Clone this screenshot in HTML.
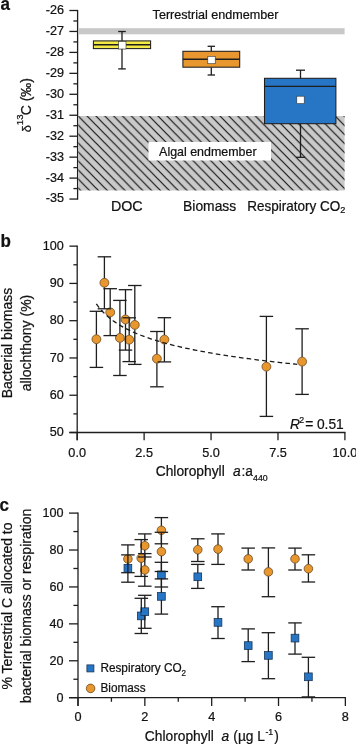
<!DOCTYPE html>
<html><head><meta charset="utf-8"><style>
html,body{margin:0;padding:0;background:#fff;width:356px;height:745px;overflow:hidden}
svg{display:block;font-family:"Liberation Sans", sans-serif;will-change:transform}
text{stroke:#111;stroke-width:0.22px;paint-order:stroke}
</style></head><body>
<svg width="356" height="745" viewBox="0 0 356 745">
<rect width="356" height="745" fill="#fff"/>
<text transform="translate(0.50,9.60) scale(1,1.06)" font-size="17" text-anchor="start" font-weight="bold" font-style="normal" fill="#111" >a</text>
<line x1="77.60" y1="9.90" x2="77.60" y2="199.65" stroke="#1e1e1e" stroke-width="1.3" />
<line x1="69.40" y1="10.50" x2="77.60" y2="10.50" stroke="#1e1e1e" stroke-width="1.3" />
<text transform="translate(63.90,13.90) scale(1,1.06)" font-size="12.6" text-anchor="end" font-weight="normal" font-style="normal" fill="#111" >-26</text>
<line x1="73.40" y1="20.98" x2="77.60" y2="20.98" stroke="#1e1e1e" stroke-width="1.3" />
<line x1="69.40" y1="31.45" x2="77.60" y2="31.45" stroke="#1e1e1e" stroke-width="1.3" />
<text transform="translate(63.90,34.85) scale(1,1.06)" font-size="12.6" text-anchor="end" font-weight="normal" font-style="normal" fill="#111" >-27</text>
<line x1="73.40" y1="41.92" x2="77.60" y2="41.92" stroke="#1e1e1e" stroke-width="1.3" />
<line x1="69.40" y1="52.40" x2="77.60" y2="52.40" stroke="#1e1e1e" stroke-width="1.3" />
<text transform="translate(63.90,55.80) scale(1,1.06)" font-size="12.6" text-anchor="end" font-weight="normal" font-style="normal" fill="#111" >-28</text>
<line x1="73.40" y1="62.88" x2="77.60" y2="62.88" stroke="#1e1e1e" stroke-width="1.3" />
<line x1="69.40" y1="73.35" x2="77.60" y2="73.35" stroke="#1e1e1e" stroke-width="1.3" />
<text transform="translate(63.90,76.75) scale(1,1.06)" font-size="12.6" text-anchor="end" font-weight="normal" font-style="normal" fill="#111" >-29</text>
<line x1="73.40" y1="83.83" x2="77.60" y2="83.83" stroke="#1e1e1e" stroke-width="1.3" />
<line x1="69.40" y1="94.30" x2="77.60" y2="94.30" stroke="#1e1e1e" stroke-width="1.3" />
<text transform="translate(63.90,97.70) scale(1,1.06)" font-size="12.6" text-anchor="end" font-weight="normal" font-style="normal" fill="#111" >-30</text>
<line x1="73.40" y1="104.77" x2="77.60" y2="104.77" stroke="#1e1e1e" stroke-width="1.3" />
<line x1="69.40" y1="115.25" x2="77.60" y2="115.25" stroke="#1e1e1e" stroke-width="1.3" />
<text transform="translate(63.90,118.65) scale(1,1.06)" font-size="12.6" text-anchor="end" font-weight="normal" font-style="normal" fill="#111" >-31</text>
<line x1="73.40" y1="125.72" x2="77.60" y2="125.72" stroke="#1e1e1e" stroke-width="1.3" />
<line x1="69.40" y1="136.20" x2="77.60" y2="136.20" stroke="#1e1e1e" stroke-width="1.3" />
<text transform="translate(63.90,139.60) scale(1,1.06)" font-size="12.6" text-anchor="end" font-weight="normal" font-style="normal" fill="#111" >-32</text>
<line x1="73.40" y1="146.67" x2="77.60" y2="146.67" stroke="#1e1e1e" stroke-width="1.3" />
<line x1="69.40" y1="157.15" x2="77.60" y2="157.15" stroke="#1e1e1e" stroke-width="1.3" />
<text transform="translate(63.90,160.55) scale(1,1.06)" font-size="12.6" text-anchor="end" font-weight="normal" font-style="normal" fill="#111" >-33</text>
<line x1="73.40" y1="167.62" x2="77.60" y2="167.62" stroke="#1e1e1e" stroke-width="1.3" />
<line x1="69.40" y1="178.10" x2="77.60" y2="178.10" stroke="#1e1e1e" stroke-width="1.3" />
<text transform="translate(63.90,181.50) scale(1,1.06)" font-size="12.6" text-anchor="end" font-weight="normal" font-style="normal" fill="#111" >-34</text>
<line x1="73.40" y1="188.57" x2="77.60" y2="188.57" stroke="#1e1e1e" stroke-width="1.3" />
<line x1="69.40" y1="199.05" x2="77.60" y2="199.05" stroke="#1e1e1e" stroke-width="1.3" />
<text transform="translate(63.90,202.45) scale(1,1.06)" font-size="12.6" text-anchor="end" font-weight="normal" font-style="normal" fill="#111" >-35</text>
<rect x="78.30" y="28.20" width="266.30" height="6.10" fill="#c8c8c8" stroke="none" stroke-width="0" />
<text transform="translate(152.60,18.60) scale(1,1.06)" font-size="12.6" text-anchor="start" font-weight="normal" font-style="normal" fill="#111" >Terrestrial endmember</text>
<defs><pattern id="hatch" patternUnits="userSpaceOnUse" width="8.86" height="9.0" patternTransform="translate(78.3,116.1)"><rect width="8.86" height="9.0" fill="#c9c9c9"/><path d="M-1.772,-1.800 L10.632,10.800 M-1.772,7.200 L1.772,10.800 M7.088,-1.800 L10.632,1.800" stroke="#151515" stroke-width="1.2"/></pattern></defs>
<rect x="78.30" y="116.00" width="266.30" height="74.50" fill="url(#hatch)" stroke="none" stroke-width="0" />
<rect x="148.50" y="142.00" width="122.50" height="18.50" fill="#ffffff" stroke="none" stroke-width="0" />
<text transform="translate(159.10,156.20) scale(1,1.06)" font-size="12.45" text-anchor="start" font-weight="normal" font-style="normal" fill="#111" >Algal endmember</text>
<line x1="122.00" y1="31.50" x2="122.00" y2="40.90" stroke="#1e1e1e" stroke-width="1.3" />
<line x1="122.00" y1="48.60" x2="122.00" y2="68.90" stroke="#1e1e1e" stroke-width="1.3" />
<line x1="118.20" y1="31.50" x2="125.80" y2="31.50" stroke="#1e1e1e" stroke-width="1.3" />
<line x1="118.20" y1="68.90" x2="125.80" y2="68.90" stroke="#1e1e1e" stroke-width="1.3" />
<rect x="93.40" y="40.90" width="57.20" height="7.70" fill="#f3ea45" stroke="#1e1e1e" stroke-width="1.05" />
<line x1="93.40" y1="44.70" x2="150.60" y2="44.70" stroke="#1e1e1e" stroke-width="1.4" />
<rect x="118.60" y="41.60" width="7.40" height="7.40" fill="#ffffff" stroke="#333" stroke-width="0.6" />
<line x1="211.30" y1="46.30" x2="211.30" y2="51.30" stroke="#1e1e1e" stroke-width="1.3" />
<line x1="211.30" y1="67.20" x2="211.30" y2="75.00" stroke="#1e1e1e" stroke-width="1.3" />
<line x1="207.60" y1="46.30" x2="215.00" y2="46.30" stroke="#1e1e1e" stroke-width="1.3" />
<line x1="207.60" y1="75.00" x2="215.00" y2="75.00" stroke="#1e1e1e" stroke-width="1.3" />
<rect x="182.90" y="51.30" width="56.80" height="15.90" fill="#e8962e" stroke="#1e1e1e" stroke-width="1.05" />
<line x1="182.90" y1="59.20" x2="239.70" y2="59.20" stroke="#1e1e1e" stroke-width="1.4" />
<rect x="207.80" y="56.30" width="7.40" height="7.40" fill="#ffffff" stroke="#333" stroke-width="0.6" />
<line x1="300.50" y1="70.20" x2="300.50" y2="78.30" stroke="#1e1e1e" stroke-width="1.3" />
<line x1="300.50" y1="123.70" x2="300.50" y2="157.30" stroke="#1e1e1e" stroke-width="1.3" />
<line x1="296.00" y1="70.20" x2="305.00" y2="70.20" stroke="#1e1e1e" stroke-width="1.3" />
<line x1="296.00" y1="157.30" x2="305.00" y2="157.30" stroke="#1e1e1e" stroke-width="1.3" />
<rect x="264.50" y="78.30" width="71.40" height="45.40" fill="#2676c5" stroke="#1e1e1e" stroke-width="1.05" />
<line x1="264.50" y1="86.40" x2="335.90" y2="86.40" stroke="#1e1e1e" stroke-width="1.4" />
<rect x="296.80" y="96.20" width="7.40" height="7.40" fill="#ffffff" stroke="#333" stroke-width="0.6" />
<text transform="translate(110.90,210.90) scale(1,1.06)" font-size="14.3" text-anchor="start" font-weight="normal" font-style="normal" fill="#111" >DOC</text>
<text transform="translate(183.10,210.90) scale(1,1.06)" font-size="13.85" text-anchor="start" font-weight="normal" font-style="normal" fill="#111" >Biomass</text>
<text transform="translate(247.30,211.20) scale(1,1.06)" font-size="13.5" text-anchor="start" font-weight="normal" font-style="normal" fill="#111" >Respiratory CO<tspan font-size="9.2" dy="1.8">2</tspan></text>
<text transform="translate(30.7,132.3) rotate(-90)" font-size="13" fill="#111">δ</text>
<text transform="translate(22.9,125.2) rotate(-90)" font-size="9.6" fill="#111">13</text>
<text transform="translate(30.8,115.3) rotate(-90)" font-size="14" fill="#111">C (‰)</text>
<text transform="translate(0.60,247.40) scale(1,1.06)" font-size="17" text-anchor="start" font-weight="bold" font-style="normal" fill="#111" >b</text>
<line x1="77.20" y1="245.55" x2="77.20" y2="440.30" stroke="#1e1e1e" stroke-width="1.3" />
<line x1="69.40" y1="432.50" x2="345.50" y2="432.50" stroke="#1e1e1e" stroke-width="1.3" />
<line x1="69.40" y1="432.50" x2="77.20" y2="432.50" stroke="#1e1e1e" stroke-width="1.3" />
<text transform="translate(63.70,436.30) scale(1,1.06)" font-size="12.6" text-anchor="end" font-weight="normal" font-style="normal" fill="#111" >50</text>
<line x1="73.40" y1="413.87" x2="77.20" y2="413.87" stroke="#1e1e1e" stroke-width="1.3" />
<line x1="69.40" y1="395.23" x2="77.20" y2="395.23" stroke="#1e1e1e" stroke-width="1.3" />
<text transform="translate(63.70,399.03) scale(1,1.06)" font-size="12.6" text-anchor="end" font-weight="normal" font-style="normal" fill="#111" >60</text>
<line x1="73.40" y1="376.60" x2="77.20" y2="376.60" stroke="#1e1e1e" stroke-width="1.3" />
<line x1="69.40" y1="357.96" x2="77.20" y2="357.96" stroke="#1e1e1e" stroke-width="1.3" />
<text transform="translate(63.70,361.76) scale(1,1.06)" font-size="12.6" text-anchor="end" font-weight="normal" font-style="normal" fill="#111" >70</text>
<line x1="73.40" y1="339.32" x2="77.20" y2="339.32" stroke="#1e1e1e" stroke-width="1.3" />
<line x1="69.40" y1="320.69" x2="77.20" y2="320.69" stroke="#1e1e1e" stroke-width="1.3" />
<text transform="translate(63.70,324.49) scale(1,1.06)" font-size="12.6" text-anchor="end" font-weight="normal" font-style="normal" fill="#111" >80</text>
<line x1="73.40" y1="302.06" x2="77.20" y2="302.06" stroke="#1e1e1e" stroke-width="1.3" />
<line x1="69.40" y1="283.42" x2="77.20" y2="283.42" stroke="#1e1e1e" stroke-width="1.3" />
<text transform="translate(63.70,287.22) scale(1,1.06)" font-size="12.6" text-anchor="end" font-weight="normal" font-style="normal" fill="#111" >90</text>
<line x1="73.40" y1="264.78" x2="77.20" y2="264.78" stroke="#1e1e1e" stroke-width="1.3" />
<line x1="69.40" y1="246.15" x2="77.20" y2="246.15" stroke="#1e1e1e" stroke-width="1.3" />
<text transform="translate(63.70,249.95) scale(1,1.06)" font-size="12.6" text-anchor="end" font-weight="normal" font-style="normal" fill="#111" >100</text>
<line x1="77.20" y1="432.50" x2="77.20" y2="440.30" stroke="#1e1e1e" stroke-width="1.3" />
<text transform="translate(77.20,456.70) scale(1,1.06)" font-size="12.7" text-anchor="middle" font-weight="normal" font-style="normal" fill="#111" >0.0</text>
<line x1="144.12" y1="432.50" x2="144.12" y2="440.30" stroke="#1e1e1e" stroke-width="1.3" />
<text transform="translate(144.12,456.70) scale(1,1.06)" font-size="12.7" text-anchor="middle" font-weight="normal" font-style="normal" fill="#111" >2.5</text>
<line x1="211.05" y1="432.50" x2="211.05" y2="440.30" stroke="#1e1e1e" stroke-width="1.3" />
<text transform="translate(211.05,456.70) scale(1,1.06)" font-size="12.7" text-anchor="middle" font-weight="normal" font-style="normal" fill="#111" >5.0</text>
<line x1="277.98" y1="432.50" x2="277.98" y2="440.30" stroke="#1e1e1e" stroke-width="1.3" />
<text transform="translate(277.98,456.70) scale(1,1.06)" font-size="12.7" text-anchor="middle" font-weight="normal" font-style="normal" fill="#111" >7.5</text>
<line x1="344.90" y1="432.50" x2="344.90" y2="440.30" stroke="#1e1e1e" stroke-width="1.3" />
<text transform="translate(344.90,456.70) scale(1,1.06)" font-size="12.7" text-anchor="middle" font-weight="normal" font-style="normal" fill="#111" >10.0</text>
<text transform="translate(155.70,475.90) scale(1,1.06)" font-size="13.8" text-anchor="start" font-weight="normal" font-style="normal" fill="#111" >Chlorophyll</text>
<text transform="translate(232.90,475.90) scale(1,1.06)" font-size="13.8" text-anchor="start" font-weight="normal" font-style="italic" fill="#111" >a</text>
<text transform="translate(241.50,475.90) scale(1,1.06)" font-size="13.8" text-anchor="start" font-weight="normal" font-style="normal" fill="#111" >:a</text>
<text transform="translate(253.00,480.90) scale(1,1.06)" font-size="8.8" text-anchor="start" font-weight="normal" font-style="normal" fill="#111" >440</text>
<text transform="translate(11.8,343) rotate(-90)" font-size="14" text-anchor="middle" fill="#111">Bacterial biomass</text>
<text transform="translate(31.0,343) rotate(-90)" font-size="14" text-anchor="middle" fill="#111">allochthony (%)</text>
<text transform="translate(290.00,428.60) scale(1,1.06)" font-size="13.8" text-anchor="start" font-weight="normal" font-style="italic" fill="#111" >R</text>
<text transform="translate(299.20,423.00) scale(1,1.06)" font-size="8.8" text-anchor="start" font-weight="normal" font-style="normal" fill="#111" >2</text>
<text transform="translate(305.20,428.60) scale(1,1.06)" font-size="13.8" text-anchor="start" font-weight="normal" font-style="normal" fill="#111" >=</text>
<text transform="translate(316.90,428.60) scale(1,1.06)" font-size="13.8" text-anchor="start" font-weight="normal" font-style="normal" fill="#111" >0.51</text>
<circle cx="96.40" cy="339.20" r="4.45" fill="#e8962e" stroke="#5b3b12" stroke-width="0.7"/>
<circle cx="104.40" cy="282.80" r="4.45" fill="#e8962e" stroke="#5b3b12" stroke-width="0.7"/>
<circle cx="110.20" cy="312.30" r="4.45" fill="#e8962e" stroke="#5b3b12" stroke-width="0.7"/>
<circle cx="119.90" cy="337.90" r="4.45" fill="#e8962e" stroke="#5b3b12" stroke-width="0.7"/>
<circle cx="125.50" cy="319.40" r="4.45" fill="#e8962e" stroke="#5b3b12" stroke-width="0.7"/>
<circle cx="129.20" cy="339.70" r="4.45" fill="#e8962e" stroke="#5b3b12" stroke-width="0.7"/>
<circle cx="134.80" cy="324.90" r="4.45" fill="#e8962e" stroke="#5b3b12" stroke-width="0.7"/>
<circle cx="156.90" cy="358.70" r="4.45" fill="#e8962e" stroke="#5b3b12" stroke-width="0.7"/>
<circle cx="164.40" cy="339.60" r="4.45" fill="#e8962e" stroke="#5b3b12" stroke-width="0.7"/>
<circle cx="266.40" cy="366.70" r="4.45" fill="#e8962e" stroke="#5b3b12" stroke-width="0.7"/>
<circle cx="302.10" cy="361.60" r="4.45" fill="#e8962e" stroke="#5b3b12" stroke-width="0.7"/>
<line x1="96.40" y1="311.30" x2="96.40" y2="334.60" stroke="#1e1e1e" stroke-width="1.3" />
<line x1="96.40" y1="343.80" x2="96.40" y2="367.40" stroke="#1e1e1e" stroke-width="1.3" />
<line x1="89.65" y1="311.30" x2="103.15" y2="311.30" stroke="#1e1e1e" stroke-width="1.3" />
<line x1="89.65" y1="367.40" x2="103.15" y2="367.40" stroke="#1e1e1e" stroke-width="1.3" />
<line x1="104.40" y1="256.80" x2="104.40" y2="278.20" stroke="#1e1e1e" stroke-width="1.3" />
<line x1="104.40" y1="287.40" x2="104.40" y2="308.80" stroke="#1e1e1e" stroke-width="1.3" />
<line x1="97.65" y1="256.80" x2="111.15" y2="256.80" stroke="#1e1e1e" stroke-width="1.3" />
<line x1="97.65" y1="308.80" x2="111.15" y2="308.80" stroke="#1e1e1e" stroke-width="1.3" />
<line x1="110.20" y1="288.70" x2="110.20" y2="307.70" stroke="#1e1e1e" stroke-width="1.3" />
<line x1="110.20" y1="316.90" x2="110.20" y2="335.60" stroke="#1e1e1e" stroke-width="1.3" />
<line x1="103.45" y1="288.70" x2="116.95" y2="288.70" stroke="#1e1e1e" stroke-width="1.3" />
<line x1="103.45" y1="335.60" x2="116.95" y2="335.60" stroke="#1e1e1e" stroke-width="1.3" />
<line x1="119.90" y1="300.40" x2="119.90" y2="333.30" stroke="#1e1e1e" stroke-width="1.3" />
<line x1="119.90" y1="342.50" x2="119.90" y2="375.50" stroke="#1e1e1e" stroke-width="1.3" />
<line x1="113.15" y1="300.40" x2="126.65" y2="300.40" stroke="#1e1e1e" stroke-width="1.3" />
<line x1="113.15" y1="375.50" x2="126.65" y2="375.50" stroke="#1e1e1e" stroke-width="1.3" />
<line x1="125.50" y1="289.70" x2="125.50" y2="314.80" stroke="#1e1e1e" stroke-width="1.3" />
<line x1="125.50" y1="324.00" x2="125.50" y2="350.10" stroke="#1e1e1e" stroke-width="1.3" />
<line x1="118.75" y1="289.70" x2="132.25" y2="289.70" stroke="#1e1e1e" stroke-width="1.3" />
<line x1="118.75" y1="350.10" x2="132.25" y2="350.10" stroke="#1e1e1e" stroke-width="1.3" />
<line x1="129.20" y1="317.80" x2="129.20" y2="335.10" stroke="#1e1e1e" stroke-width="1.3" />
<line x1="129.20" y1="344.30" x2="129.20" y2="361.60" stroke="#1e1e1e" stroke-width="1.3" />
<line x1="122.45" y1="317.80" x2="135.95" y2="317.80" stroke="#1e1e1e" stroke-width="1.3" />
<line x1="122.45" y1="361.60" x2="135.95" y2="361.60" stroke="#1e1e1e" stroke-width="1.3" />
<line x1="134.80" y1="285.50" x2="134.80" y2="320.30" stroke="#1e1e1e" stroke-width="1.3" />
<line x1="134.80" y1="329.50" x2="134.80" y2="364.40" stroke="#1e1e1e" stroke-width="1.3" />
<line x1="128.05" y1="285.50" x2="141.55" y2="285.50" stroke="#1e1e1e" stroke-width="1.3" />
<line x1="128.05" y1="364.40" x2="141.55" y2="364.40" stroke="#1e1e1e" stroke-width="1.3" />
<line x1="156.90" y1="331.50" x2="156.90" y2="354.10" stroke="#1e1e1e" stroke-width="1.3" />
<line x1="156.90" y1="363.30" x2="156.90" y2="386.80" stroke="#1e1e1e" stroke-width="1.3" />
<line x1="150.15" y1="331.50" x2="163.65" y2="331.50" stroke="#1e1e1e" stroke-width="1.3" />
<line x1="150.15" y1="386.80" x2="163.65" y2="386.80" stroke="#1e1e1e" stroke-width="1.3" />
<line x1="164.40" y1="317.70" x2="164.40" y2="335.00" stroke="#1e1e1e" stroke-width="1.3" />
<line x1="164.40" y1="344.20" x2="164.40" y2="361.90" stroke="#1e1e1e" stroke-width="1.3" />
<line x1="157.65" y1="317.70" x2="171.15" y2="317.70" stroke="#1e1e1e" stroke-width="1.3" />
<line x1="157.65" y1="361.90" x2="171.15" y2="361.90" stroke="#1e1e1e" stroke-width="1.3" />
<line x1="266.40" y1="316.40" x2="266.40" y2="362.10" stroke="#1e1e1e" stroke-width="1.3" />
<line x1="266.40" y1="371.30" x2="266.40" y2="416.40" stroke="#1e1e1e" stroke-width="1.3" />
<line x1="259.65" y1="316.40" x2="273.15" y2="316.40" stroke="#1e1e1e" stroke-width="1.3" />
<line x1="259.65" y1="416.40" x2="273.15" y2="416.40" stroke="#1e1e1e" stroke-width="1.3" />
<line x1="302.10" y1="328.80" x2="302.10" y2="357.00" stroke="#1e1e1e" stroke-width="1.3" />
<line x1="302.10" y1="366.20" x2="302.10" y2="394.40" stroke="#1e1e1e" stroke-width="1.3" />
<line x1="295.35" y1="328.80" x2="308.85" y2="328.80" stroke="#1e1e1e" stroke-width="1.3" />
<line x1="295.35" y1="394.40" x2="308.85" y2="394.40" stroke="#1e1e1e" stroke-width="1.3" />
<polyline points="96.34,303.92 98.01,306.21 99.69,308.31 101.36,310.25 103.04,312.05 104.71,313.73 106.39,315.29 108.06,316.77 109.73,318.16 111.41,319.47 113.08,320.71 114.76,321.90 116.43,323.02 118.11,324.10 119.78,325.13 121.45,326.11 123.13,327.06 124.80,327.97 126.48,328.85 128.15,329.69 129.83,330.50 131.50,331.29 133.17,332.05 134.85,332.79 136.52,333.50 138.20,334.19 139.87,334.86 141.55,335.52 143.22,336.15 144.89,336.77 146.57,337.37 148.24,337.95 149.92,338.52 151.59,339.08 153.26,339.62 154.94,340.15 156.61,340.67 158.29,341.17 159.96,341.67 161.64,342.15 163.31,342.62 164.98,343.09 166.66,343.54 168.33,343.99 170.01,344.42 171.68,344.85 173.36,345.27 175.03,345.68 176.70,346.08 178.38,346.48 180.05,346.87 181.73,347.25 183.40,347.63 185.08,348.00 186.75,348.36 188.42,348.72 190.10,349.07 191.77,349.42 193.45,349.76 195.12,350.09 196.79,350.42 198.47,350.75 200.14,351.07 201.82,351.38 203.49,351.70 205.17,352.00 206.84,352.30 208.51,352.60 210.19,352.90 211.86,353.19 213.54,353.47 215.21,353.75 216.89,354.03 218.56,354.31 220.23,354.58 221.91,354.85 223.58,355.11 225.26,355.37 226.93,355.63 228.61,355.89 230.28,356.14 231.95,356.39 233.63,356.63 235.30,356.88 236.98,357.12 238.65,357.36 240.33,357.59 242.00,357.82 243.67,358.05 245.35,358.28 247.02,358.51 248.70,358.73 250.37,358.95 252.04,359.17 253.72,359.38 255.39,359.60 257.07,359.81 258.74,360.02 260.42,360.22 262.09,360.43 263.76,360.63 265.44,360.83 267.11,361.03 268.79,361.23 270.46,361.43 272.14,361.62 273.81,361.81 275.48,362.00 277.16,362.19 278.83,362.38 280.51,362.56 282.18,362.74 283.86,362.92 285.53,363.10 287.20,363.28 288.88,363.46 290.55,363.64 292.23,363.81 293.90,363.98 295.58,364.15 297.25,364.32" fill="none" stroke="#1a1a1a" stroke-width="1.3" stroke-dasharray="4.6,3.2"/>
<text transform="translate(-0.60,510.50) scale(1,1.06)" font-size="17" text-anchor="start" font-weight="bold" font-style="normal" fill="#111" >c</text>
<line x1="78.00" y1="512.50" x2="78.00" y2="706.00" stroke="#1e1e1e" stroke-width="1.3" />
<line x1="69.00" y1="697.70" x2="345.96" y2="697.70" stroke="#1e1e1e" stroke-width="1.3" />
<line x1="69.00" y1="697.70" x2="78.00" y2="697.70" stroke="#1e1e1e" stroke-width="1.3" />
<text transform="translate(63.60,701.60) scale(1,1.06)" font-size="12.6" text-anchor="end" font-weight="normal" font-style="normal" fill="#111" >0</text>
<line x1="73.40" y1="679.24" x2="78.00" y2="679.24" stroke="#1e1e1e" stroke-width="1.3" />
<line x1="69.00" y1="660.78" x2="78.00" y2="660.78" stroke="#1e1e1e" stroke-width="1.3" />
<text transform="translate(63.60,664.68) scale(1,1.06)" font-size="12.6" text-anchor="end" font-weight="normal" font-style="normal" fill="#111" >20</text>
<line x1="73.40" y1="642.32" x2="78.00" y2="642.32" stroke="#1e1e1e" stroke-width="1.3" />
<line x1="69.00" y1="623.86" x2="78.00" y2="623.86" stroke="#1e1e1e" stroke-width="1.3" />
<text transform="translate(63.60,627.76) scale(1,1.06)" font-size="12.6" text-anchor="end" font-weight="normal" font-style="normal" fill="#111" >40</text>
<line x1="73.40" y1="605.40" x2="78.00" y2="605.40" stroke="#1e1e1e" stroke-width="1.3" />
<line x1="69.00" y1="586.94" x2="78.00" y2="586.94" stroke="#1e1e1e" stroke-width="1.3" />
<text transform="translate(63.60,590.84) scale(1,1.06)" font-size="12.6" text-anchor="end" font-weight="normal" font-style="normal" fill="#111" >60</text>
<line x1="73.40" y1="568.48" x2="78.00" y2="568.48" stroke="#1e1e1e" stroke-width="1.3" />
<line x1="69.00" y1="550.02" x2="78.00" y2="550.02" stroke="#1e1e1e" stroke-width="1.3" />
<text transform="translate(63.60,553.92) scale(1,1.06)" font-size="12.6" text-anchor="end" font-weight="normal" font-style="normal" fill="#111" >80</text>
<line x1="73.40" y1="531.56" x2="78.00" y2="531.56" stroke="#1e1e1e" stroke-width="1.3" />
<line x1="69.00" y1="513.10" x2="78.00" y2="513.10" stroke="#1e1e1e" stroke-width="1.3" />
<text transform="translate(63.60,517.00) scale(1,1.06)" font-size="12.6" text-anchor="end" font-weight="normal" font-style="normal" fill="#111" >100</text>
<line x1="78.00" y1="697.70" x2="78.00" y2="706.00" stroke="#1e1e1e" stroke-width="1.3" />
<text transform="translate(78.00,720.90) scale(1,1.06)" font-size="12.7" text-anchor="middle" font-weight="normal" font-style="normal" fill="#111" >0</text>
<line x1="111.42" y1="697.70" x2="111.42" y2="701.80" stroke="#1e1e1e" stroke-width="1.3" />
<line x1="144.84" y1="697.70" x2="144.84" y2="706.00" stroke="#1e1e1e" stroke-width="1.3" />
<text transform="translate(144.84,720.90) scale(1,1.06)" font-size="12.7" text-anchor="middle" font-weight="normal" font-style="normal" fill="#111" >2</text>
<line x1="178.26" y1="697.70" x2="178.26" y2="701.80" stroke="#1e1e1e" stroke-width="1.3" />
<line x1="211.68" y1="697.70" x2="211.68" y2="706.00" stroke="#1e1e1e" stroke-width="1.3" />
<text transform="translate(211.68,720.90) scale(1,1.06)" font-size="12.7" text-anchor="middle" font-weight="normal" font-style="normal" fill="#111" >4</text>
<line x1="245.10" y1="697.70" x2="245.10" y2="701.80" stroke="#1e1e1e" stroke-width="1.3" />
<line x1="278.52" y1="697.70" x2="278.52" y2="706.00" stroke="#1e1e1e" stroke-width="1.3" />
<text transform="translate(278.52,720.90) scale(1,1.06)" font-size="12.7" text-anchor="middle" font-weight="normal" font-style="normal" fill="#111" >6</text>
<line x1="311.94" y1="697.70" x2="311.94" y2="701.80" stroke="#1e1e1e" stroke-width="1.3" />
<line x1="345.36" y1="697.70" x2="345.36" y2="706.00" stroke="#1e1e1e" stroke-width="1.3" />
<text transform="translate(345.36,720.90) scale(1,1.06)" font-size="12.7" text-anchor="middle" font-weight="normal" font-style="normal" fill="#111" >8</text>
<text transform="translate(144.80,741.20) scale(1,1.06)" font-size="13.8" text-anchor="start" font-weight="normal" font-style="normal" fill="#111" >Chlorophyll</text>
<text transform="translate(221.60,741.20) scale(1,1.06)" font-size="13.8" text-anchor="start" font-weight="normal" font-style="italic" fill="#111" >a</text>
<text transform="translate(233.30,741.20) scale(1,1.06)" font-size="13.8" text-anchor="start" font-weight="normal" font-style="normal" fill="#111" >(µg L</text>
<text transform="translate(265.40,734.60) scale(1,1.06)" font-size="8.8" text-anchor="start" font-weight="normal" font-style="normal" fill="#111" >-1</text>
<text transform="translate(274.20,741.20) scale(1,1.06)" font-size="13.8" text-anchor="start" font-weight="normal" font-style="normal" fill="#111" >)</text>
<text transform="translate(12.0,606) rotate(-90)" font-size="14" text-anchor="middle" fill="#111">% Terrestrial C allocated to</text>
<text transform="translate(30.9,606) rotate(-90)" font-size="14" text-anchor="middle" fill="#111">bacterial biomass or respiration</text>
<rect x="124.05" y="564.55" width="7.70" height="7.70" fill="#2676c5" stroke="#16365e" stroke-width="0.8" />
<rect x="137.45" y="612.05" width="7.70" height="7.70" fill="#2676c5" stroke="#16365e" stroke-width="0.8" />
<rect x="140.95" y="607.85" width="7.70" height="7.70" fill="#2676c5" stroke="#16365e" stroke-width="0.8" />
<rect x="157.55" y="571.05" width="7.70" height="7.70" fill="#2676c5" stroke="#16365e" stroke-width="0.8" />
<rect x="157.55" y="592.55" width="7.70" height="7.70" fill="#2676c5" stroke="#16365e" stroke-width="0.8" />
<rect x="193.95" y="572.95" width="7.70" height="7.70" fill="#2676c5" stroke="#16365e" stroke-width="0.8" />
<rect x="214.15" y="618.55" width="7.70" height="7.70" fill="#2676c5" stroke="#16365e" stroke-width="0.8" />
<rect x="244.35" y="641.75" width="7.70" height="7.70" fill="#2676c5" stroke="#16365e" stroke-width="0.8" />
<rect x="264.55" y="651.55" width="7.70" height="7.70" fill="#2676c5" stroke="#16365e" stroke-width="0.8" />
<rect x="291.15" y="634.25" width="7.70" height="7.70" fill="#2676c5" stroke="#16365e" stroke-width="0.8" />
<rect x="304.55" y="672.95" width="7.70" height="7.70" fill="#2676c5" stroke="#16365e" stroke-width="0.8" />
<circle cx="127.90" cy="559.00" r="4.3" fill="#e8962e" stroke="#5b3b12" stroke-width="0.7"/>
<circle cx="141.20" cy="558.10" r="4.3" fill="#e8962e" stroke="#5b3b12" stroke-width="0.7"/>
<circle cx="144.80" cy="545.70" r="4.3" fill="#e8962e" stroke="#5b3b12" stroke-width="0.7"/>
<circle cx="144.80" cy="569.90" r="4.3" fill="#e8962e" stroke="#5b3b12" stroke-width="0.7"/>
<circle cx="161.40" cy="530.30" r="4.3" fill="#e8962e" stroke="#5b3b12" stroke-width="0.7"/>
<circle cx="161.40" cy="551.60" r="4.3" fill="#e8962e" stroke="#5b3b12" stroke-width="0.7"/>
<circle cx="197.80" cy="549.70" r="4.3" fill="#e8962e" stroke="#5b3b12" stroke-width="0.7"/>
<circle cx="218.00" cy="549.10" r="4.3" fill="#e8962e" stroke="#5b3b12" stroke-width="0.7"/>
<circle cx="248.20" cy="558.90" r="4.3" fill="#e8962e" stroke="#5b3b12" stroke-width="0.7"/>
<circle cx="268.40" cy="571.90" r="4.3" fill="#e8962e" stroke="#5b3b12" stroke-width="0.7"/>
<circle cx="295.00" cy="558.80" r="4.3" fill="#e8962e" stroke="#5b3b12" stroke-width="0.7"/>
<circle cx="308.40" cy="568.70" r="4.3" fill="#e8962e" stroke="#5b3b12" stroke-width="0.7"/>
<line x1="127.90" y1="554.90" x2="127.90" y2="564.70" stroke="#1e1e1e" stroke-width="1.3" />
<line x1="127.90" y1="572.10" x2="127.90" y2="582.20" stroke="#1e1e1e" stroke-width="1.3" />
<line x1="121.15" y1="554.90" x2="134.65" y2="554.90" stroke="#1e1e1e" stroke-width="1.3" />
<line x1="121.15" y1="582.20" x2="134.65" y2="582.20" stroke="#1e1e1e" stroke-width="1.3" />
<line x1="141.30" y1="598.30" x2="141.30" y2="612.20" stroke="#1e1e1e" stroke-width="1.3" />
<line x1="141.30" y1="619.60" x2="141.30" y2="633.50" stroke="#1e1e1e" stroke-width="1.3" />
<line x1="134.55" y1="598.30" x2="148.05" y2="598.30" stroke="#1e1e1e" stroke-width="1.3" />
<line x1="134.55" y1="633.50" x2="148.05" y2="633.50" stroke="#1e1e1e" stroke-width="1.3" />
<line x1="144.80" y1="595.30" x2="144.80" y2="608.00" stroke="#1e1e1e" stroke-width="1.3" />
<line x1="144.80" y1="615.40" x2="144.80" y2="628.30" stroke="#1e1e1e" stroke-width="1.3" />
<line x1="138.05" y1="595.30" x2="151.55" y2="595.30" stroke="#1e1e1e" stroke-width="1.3" />
<line x1="138.05" y1="628.30" x2="151.55" y2="628.30" stroke="#1e1e1e" stroke-width="1.3" />
<line x1="161.40" y1="562.30" x2="161.40" y2="571.20" stroke="#1e1e1e" stroke-width="1.3" />
<line x1="161.40" y1="578.60" x2="161.40" y2="587.00" stroke="#1e1e1e" stroke-width="1.3" />
<line x1="154.65" y1="562.30" x2="168.15" y2="562.30" stroke="#1e1e1e" stroke-width="1.3" />
<line x1="154.65" y1="587.00" x2="168.15" y2="587.00" stroke="#1e1e1e" stroke-width="1.3" />
<line x1="161.40" y1="578.90" x2="161.40" y2="592.70" stroke="#1e1e1e" stroke-width="1.3" />
<line x1="161.40" y1="600.10" x2="161.40" y2="614.10" stroke="#1e1e1e" stroke-width="1.3" />
<line x1="154.65" y1="578.90" x2="168.15" y2="578.90" stroke="#1e1e1e" stroke-width="1.3" />
<line x1="154.65" y1="614.10" x2="168.15" y2="614.10" stroke="#1e1e1e" stroke-width="1.3" />
<line x1="197.80" y1="564.40" x2="197.80" y2="573.10" stroke="#1e1e1e" stroke-width="1.3" />
<line x1="197.80" y1="580.50" x2="197.80" y2="588.40" stroke="#1e1e1e" stroke-width="1.3" />
<line x1="191.05" y1="564.40" x2="204.55" y2="564.40" stroke="#1e1e1e" stroke-width="1.3" />
<line x1="191.05" y1="588.40" x2="204.55" y2="588.40" stroke="#1e1e1e" stroke-width="1.3" />
<line x1="218.00" y1="606.70" x2="218.00" y2="618.70" stroke="#1e1e1e" stroke-width="1.3" />
<line x1="218.00" y1="626.10" x2="218.00" y2="638.50" stroke="#1e1e1e" stroke-width="1.3" />
<line x1="211.25" y1="606.70" x2="224.75" y2="606.70" stroke="#1e1e1e" stroke-width="1.3" />
<line x1="211.25" y1="638.50" x2="224.75" y2="638.50" stroke="#1e1e1e" stroke-width="1.3" />
<line x1="248.20" y1="628.90" x2="248.20" y2="641.90" stroke="#1e1e1e" stroke-width="1.3" />
<line x1="248.20" y1="649.30" x2="248.20" y2="661.60" stroke="#1e1e1e" stroke-width="1.3" />
<line x1="241.45" y1="628.90" x2="254.95" y2="628.90" stroke="#1e1e1e" stroke-width="1.3" />
<line x1="241.45" y1="661.60" x2="254.95" y2="661.60" stroke="#1e1e1e" stroke-width="1.3" />
<line x1="268.40" y1="632.70" x2="268.40" y2="651.70" stroke="#1e1e1e" stroke-width="1.3" />
<line x1="268.40" y1="659.10" x2="268.40" y2="678.70" stroke="#1e1e1e" stroke-width="1.3" />
<line x1="261.65" y1="632.70" x2="275.15" y2="632.70" stroke="#1e1e1e" stroke-width="1.3" />
<line x1="261.65" y1="678.70" x2="275.15" y2="678.70" stroke="#1e1e1e" stroke-width="1.3" />
<line x1="295.00" y1="622.90" x2="295.00" y2="634.40" stroke="#1e1e1e" stroke-width="1.3" />
<line x1="295.00" y1="641.80" x2="295.00" y2="654.10" stroke="#1e1e1e" stroke-width="1.3" />
<line x1="288.25" y1="622.90" x2="301.75" y2="622.90" stroke="#1e1e1e" stroke-width="1.3" />
<line x1="288.25" y1="654.10" x2="301.75" y2="654.10" stroke="#1e1e1e" stroke-width="1.3" />
<line x1="308.40" y1="657.30" x2="308.40" y2="673.10" stroke="#1e1e1e" stroke-width="1.3" />
<line x1="308.40" y1="680.50" x2="308.40" y2="696.90" stroke="#1e1e1e" stroke-width="1.3" />
<line x1="301.65" y1="657.30" x2="315.15" y2="657.30" stroke="#1e1e1e" stroke-width="1.3" />
<line x1="301.65" y1="696.90" x2="315.15" y2="696.90" stroke="#1e1e1e" stroke-width="1.3" />
<line x1="127.90" y1="544.90" x2="127.90" y2="554.60" stroke="#1e1e1e" stroke-width="1.3" />
<line x1="127.90" y1="563.40" x2="127.90" y2="572.70" stroke="#1e1e1e" stroke-width="1.3" />
<line x1="121.15" y1="544.90" x2="134.65" y2="544.90" stroke="#1e1e1e" stroke-width="1.3" />
<line x1="121.15" y1="572.70" x2="134.65" y2="572.70" stroke="#1e1e1e" stroke-width="1.3" />
<line x1="141.20" y1="539.60" x2="141.20" y2="553.70" stroke="#1e1e1e" stroke-width="1.3" />
<line x1="141.20" y1="562.50" x2="141.20" y2="576.40" stroke="#1e1e1e" stroke-width="1.3" />
<line x1="134.45" y1="539.60" x2="147.95" y2="539.60" stroke="#1e1e1e" stroke-width="1.3" />
<line x1="134.45" y1="576.40" x2="147.95" y2="576.40" stroke="#1e1e1e" stroke-width="1.3" />
<line x1="144.80" y1="533.90" x2="144.80" y2="541.30" stroke="#1e1e1e" stroke-width="1.3" />
<line x1="144.80" y1="550.10" x2="144.80" y2="557.00" stroke="#1e1e1e" stroke-width="1.3" />
<line x1="138.05" y1="533.90" x2="151.55" y2="533.90" stroke="#1e1e1e" stroke-width="1.3" />
<line x1="138.05" y1="557.00" x2="151.55" y2="557.00" stroke="#1e1e1e" stroke-width="1.3" />
<line x1="144.80" y1="553.60" x2="144.80" y2="565.50" stroke="#1e1e1e" stroke-width="1.3" />
<line x1="144.80" y1="574.30" x2="144.80" y2="586.20" stroke="#1e1e1e" stroke-width="1.3" />
<line x1="138.05" y1="553.60" x2="151.55" y2="553.60" stroke="#1e1e1e" stroke-width="1.3" />
<line x1="138.05" y1="586.20" x2="151.55" y2="586.20" stroke="#1e1e1e" stroke-width="1.3" />
<line x1="161.40" y1="517.60" x2="161.40" y2="525.90" stroke="#1e1e1e" stroke-width="1.3" />
<line x1="161.40" y1="534.70" x2="161.40" y2="543.80" stroke="#1e1e1e" stroke-width="1.3" />
<line x1="154.65" y1="517.60" x2="168.15" y2="517.60" stroke="#1e1e1e" stroke-width="1.3" />
<line x1="154.65" y1="543.80" x2="168.15" y2="543.80" stroke="#1e1e1e" stroke-width="1.3" />
<line x1="161.40" y1="532.30" x2="161.40" y2="547.20" stroke="#1e1e1e" stroke-width="1.3" />
<line x1="161.40" y1="556.00" x2="161.40" y2="571.50" stroke="#1e1e1e" stroke-width="1.3" />
<line x1="154.65" y1="532.30" x2="168.15" y2="532.30" stroke="#1e1e1e" stroke-width="1.3" />
<line x1="154.65" y1="571.50" x2="168.15" y2="571.50" stroke="#1e1e1e" stroke-width="1.3" />
<line x1="197.80" y1="538.80" x2="197.80" y2="545.30" stroke="#1e1e1e" stroke-width="1.3" />
<line x1="197.80" y1="554.10" x2="197.80" y2="561.50" stroke="#1e1e1e" stroke-width="1.3" />
<line x1="191.05" y1="538.80" x2="204.55" y2="538.80" stroke="#1e1e1e" stroke-width="1.3" />
<line x1="191.05" y1="561.50" x2="204.55" y2="561.50" stroke="#1e1e1e" stroke-width="1.3" />
<line x1="218.00" y1="533.90" x2="218.00" y2="544.70" stroke="#1e1e1e" stroke-width="1.3" />
<line x1="218.00" y1="553.50" x2="218.00" y2="564.40" stroke="#1e1e1e" stroke-width="1.3" />
<line x1="211.25" y1="533.90" x2="224.75" y2="533.90" stroke="#1e1e1e" stroke-width="1.3" />
<line x1="211.25" y1="564.40" x2="224.75" y2="564.40" stroke="#1e1e1e" stroke-width="1.3" />
<line x1="248.20" y1="548.10" x2="248.20" y2="554.50" stroke="#1e1e1e" stroke-width="1.3" />
<line x1="248.20" y1="563.30" x2="248.20" y2="570.00" stroke="#1e1e1e" stroke-width="1.3" />
<line x1="241.45" y1="548.10" x2="254.95" y2="548.10" stroke="#1e1e1e" stroke-width="1.3" />
<line x1="241.45" y1="570.00" x2="254.95" y2="570.00" stroke="#1e1e1e" stroke-width="1.3" />
<line x1="268.40" y1="547.90" x2="268.40" y2="567.50" stroke="#1e1e1e" stroke-width="1.3" />
<line x1="268.40" y1="576.30" x2="268.40" y2="596.70" stroke="#1e1e1e" stroke-width="1.3" />
<line x1="261.65" y1="547.90" x2="275.15" y2="547.90" stroke="#1e1e1e" stroke-width="1.3" />
<line x1="261.65" y1="596.70" x2="275.15" y2="596.70" stroke="#1e1e1e" stroke-width="1.3" />
<line x1="295.00" y1="548.10" x2="295.00" y2="554.40" stroke="#1e1e1e" stroke-width="1.3" />
<line x1="295.00" y1="563.20" x2="295.00" y2="570.00" stroke="#1e1e1e" stroke-width="1.3" />
<line x1="288.25" y1="548.10" x2="301.75" y2="548.10" stroke="#1e1e1e" stroke-width="1.3" />
<line x1="288.25" y1="570.00" x2="301.75" y2="570.00" stroke="#1e1e1e" stroke-width="1.3" />
<line x1="308.40" y1="554.80" x2="308.40" y2="564.30" stroke="#1e1e1e" stroke-width="1.3" />
<line x1="308.40" y1="573.10" x2="308.40" y2="582.00" stroke="#1e1e1e" stroke-width="1.3" />
<line x1="301.65" y1="554.80" x2="315.15" y2="554.80" stroke="#1e1e1e" stroke-width="1.3" />
<line x1="301.65" y1="582.00" x2="315.15" y2="582.00" stroke="#1e1e1e" stroke-width="1.3" />
<rect x="86.90" y="664.90" width="7.00" height="7.00" fill="#2676c5" stroke="#16365e" stroke-width="0.8" />
<circle cx="90.60" cy="688.40" r="4.3" fill="#e8962e" stroke="#5b3b12" stroke-width="0.7"/>
<text transform="translate(100.40,672.40) scale(1,1.06)" font-size="11.8" text-anchor="start" font-weight="normal" font-style="normal" fill="#111" >Respiratory CO<tspan font-size="8" dy="3">2</tspan></text>
<text transform="translate(100.40,691.60) scale(1,1.06)" font-size="11.8" text-anchor="start" font-weight="normal" font-style="normal" fill="#111" >Biomass</text>
</svg></body></html>
